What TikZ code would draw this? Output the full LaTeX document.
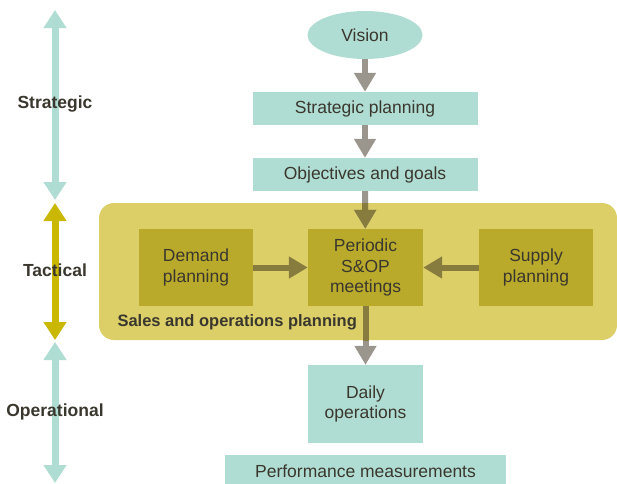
\documentclass[tikz,border=0pt]{standalone}
\usepackage{fontspec}
\setmainfont{Liberation Sans}
\usetikzlibrary{arrows.meta,shapes.geometric}

\definecolor{mint}{HTML}{B0DDD3}
\definecolor{sand}{HTML}{DCCF68}
\definecolor{olive}{HTML}{B9AA2B}
\definecolor{mustard}{HTML}{C9B700}
\definecolor{stone}{HTML}{9B968D}
\definecolor{bark}{HTML}{877B3D}
\definecolor{ink}{HTML}{3A372E}

\begin{document}
\begin{tikzpicture}[x=1pt,y=-1pt,>=Latex,
    box/.style={fill=mint,inner sep=0pt,text=ink,align=center,
      font=\fontsize{17.5}{20.5}\selectfont},
    sopbox/.style={box,fill=olive,minimum width=114pt,minimum height=77pt},
    flow/.style={-{Triangle[width=21pt,length=19pt]},line width=6pt,stone},
    span/.style={{Triangle[width=22pt,length=18pt]}-{Triangle[width=22pt,length=18pt]},
      line width=7pt},
    level/.style={text=ink,font=\bfseries\fontsize{17.5}{20}\selectfont}]
  \useasboundingbox (0,0) rectangle (617,483);

  % Planning horizons on the left
  \coordinate (s1) at (55,10);
  \coordinate (s2) at (55,200);
  \coordinate (t1) at (55,203);
  \coordinate (t2) at (55,340);
  \coordinate (o1) at (55,342);
  \coordinate (o2) at (55,483);
  \draw[span,mint] (s1) -- (s2);
  \draw[span,mustard] (t1) -- (t2);
  \draw[span,mint] (o1) -- (o2);
  \node[level] (strategic) at (55,104) {Strategic};
  \node[level] (tactical) at (55,270) {Tactical};
  \node[level] (operational) at (55,412) {Operational};

  % S&OP frame
  \fill[sand,rounded corners=15pt] (99,203) rectangle (617,340);
  \node[level,anchor=west,font=\bfseries\fontsize{16.5}{20}\selectfont]
    (salesop) at (114,322) {Sales and operations planning};

  % Flow from vision down to daily work
  \node[box,ellipse,minimum width=115pt,minimum height=48pt] (vision) at (365,35) {Vision};
  \node[box,minimum width=225pt,minimum height=33pt] (strat) at (365,108.5) {Strategic planning};
  \node[box,minimum width=225pt,minimum height=33pt] (goals) at (365,174.5) {Objectives and goals};
  \node[sopbox] (demand) at (196,267.5) {Demand\\planning};
  \node[sopbox,minimum width=115pt] (meet) at (365.5,267.5) {Periodic\\S\&OP\\meetings};
  \node[sopbox] (supply) at (536,267.5) {Supply\\planning};
  \node[box,minimum width=115pt,minimum height=78pt] (daily) at (365.5,404) {Daily\\operations};
  \node[box,minimum width=281pt,minimum height=32pt] (perf) at (365.5,471) {Performance measurements};

  \draw[flow] (vision) -- (strat);
  \draw[flow] (strat) -- (goals);
  \draw[flow] (goals) -- (meet);
  \draw[flow] (meet) -- (daily);
  % darker where the arrows cross the frame
  \begin{scope}
    \clip (99,203) rectangle (617,340);
    \draw[flow,bark] (goals) -- (meet);
    \draw[flow,bark] (meet) -- (daily);
  \end{scope}
  \draw[flow,bark] (demand) -- (meet);
  \draw[flow,bark] (supply) -- (meet);
\end{tikzpicture}
\end{document}
